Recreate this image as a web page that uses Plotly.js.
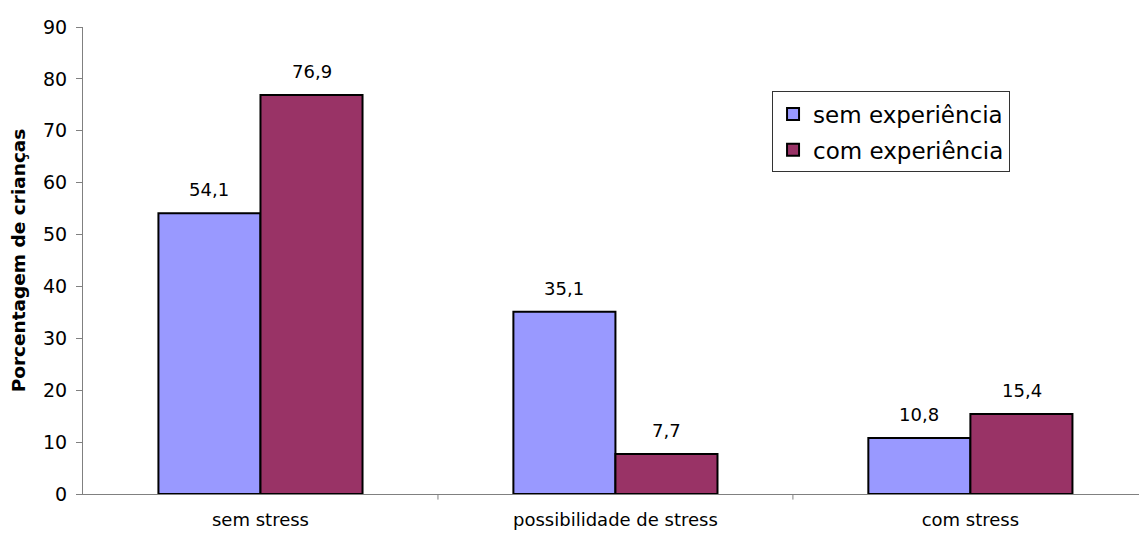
<!DOCTYPE html>
<html><head><meta charset="utf-8">
<script src="https://cdn.plot.ly/plotly-3.0.1.min.js"></script>
<style>html,body{margin:0;padding:0;background:#fff}#chart{width:1139px;height:536px}</style>
</head><body><div id="chart"></div>
<script>
const categories = ["sem stress", "possibilidade de stress", "com stress"];
const seriesNames = ["sem experiência", "com experiência"];
const semExperiencia = [54.1, 35.1, 10.8];
const comExperiencia = [76.9, 7.7, 15.4];
const yTicks = [0, 10, 20, 30, 40, 50, 60, 70, 80, 90];
const colors = ["#9999FF", "#993366"];

const FONT = "DejaVu Sans, Liberation Sans, Arial";
const fmt = v => v.toFixed(1).replace(".", ",");
const series = [semExperiencia, comExperiencia];
const traces = series.map((vals, k) => ({
  type: "bar", name: seriesNames[k], x: categories, y: vals,
  legendgroup: "g" + k,
  marker: {color: colors[k], line: {color: "#000", width: 2}},
  hoverinfo: "none"
}));
const off = 0.144;
const annotations = [];
series.forEach((vals, k) => vals.forEach((v, i) => annotations.push({
  x: i + (k === 0 ? -off : off), y: v, xref: "x", yref: "y",
  text: fmt(v), showarrow: false, yanchor: "bottom", yshift: 11,
  font: {family: FONT, size: 18, color: "#000"}
})));

const layout = {
  width: 1139, height: 536,
  margin: {l: 83, r: 0, t: 27, b: 42},
  paper_bgcolor: "#fff", plot_bgcolor: "#fff",
  font: {family: FONT, color: "#000"},
  barmode: "group", bargap: 0.425, bargroupgap: 0,
  showlegend: true,
  legend: {x: 0.6525, y: 0.862, xanchor: "left", yanchor: "top",
    bordercolor: "#333", borderwidth: 1, font: {family: FONT, size: 23},
    tracegroupgap: 3, itemwidth: 30},
  xaxis: {type: "category", range: [-0.5, 2.475], showline: true, linecolor: "#808080", linewidth: 1,
    ticks: "", tickfont: {family: FONT, size: 18}, ticklabelstandoff: 9, showgrid: false, zeroline: false},
  yaxis: {range: [0, 90], tickvals: yTicks, ticks: "outside", ticklen: 6, tickcolor: "#808080",
    showline: true, linecolor: "#808080", linewidth: 1, showgrid: false, zeroline: false,
    tickfont: {family: FONT, size: 19}, ticklabelstandoff: 5,
    title: {text: "<b>Porcentagem de crianças</b>", font: {family: FONT, size: 18.5}, standoff: 12}},
  annotations: annotations,
  shapes: [0.5, 1.5].map(p => ({type: "line", xref: "x", yref: "paper", x0: p, x1: p, y0: 0, y1: -0.012,
    line: {color: "#808080", width: 1}}))
};
Plotly.newPlot("chart", traces, layout, {displayModeBar: false, staticPlot: true});
</script></body></html>
